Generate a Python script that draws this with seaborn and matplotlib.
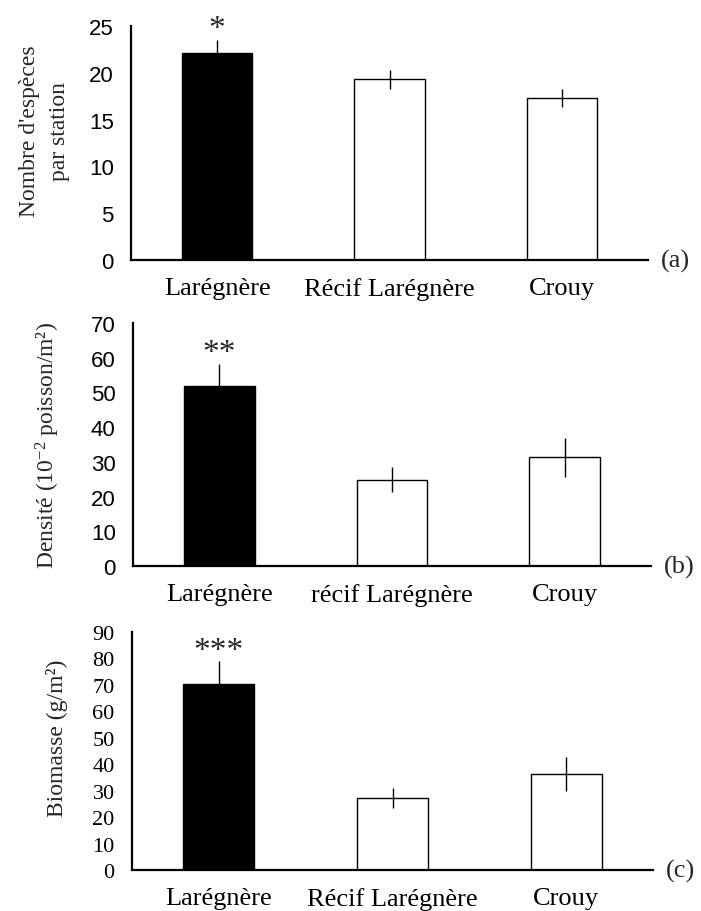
import matplotlib
matplotlib.use("Agg")
import matplotlib.pyplot as plt
import seaborn as sns
import pandas as pd
import numpy as np
from matplotlib.ticker import FixedLocator, MultipleLocator

# ---------------- data ----------------
stations_a = ["Larégnère", "Récif Larégnère", "Crouy"]
stations_b = ["Larégnère", "récif Larégnère", "Crouy"]
stations_c = ["Larégnère", "Récif Larégnère", "Crouy"]

especes_mean = [22.1, 19.3, 17.3]
especes_err = [1.4, 1.05, 1.0]

densite_mean = [51.8, 24.9, 31.3]
densite_err = [6.4, 3.7, 5.7]

biomasse_mean = [70.4, 27.2, 36.3]
biomasse_err = [8.5, 3.8, 6.5]

signif = ["*", "**", "***"]
ylabels = ["Nombre d'espèces\npar station",
           "Densité (10$^{\\mathrm{-2}}$ poisson/m²)",
           "Biomasse (g/m²)"]
panel_tags = ["(a)", "(b)", "(c)"]
ymax = [25, 70, 90]
ystep = [5, 10, 10]

bar_colors = ["black", "white", "white"]

# ---------------- style ----------------
sns.set_style("white")
plt.rcParams["font.family"] = ["Liberation Serif", "DejaVu Serif"]
plt.rcParams["mathtext.fontset"] = "custom"
plt.rcParams["mathtext.rm"] = "Liberation Serif"
plt.rcParams["mathtext.it"] = "Liberation Serif:italic"
plt.rcParams["mathtext.bf"] = "Liberation Serif:bold"

fig = plt.figure(figsize=(7.01, 9.12), dpi=100)

positions = [
    [131 / 701, 1 - 261 / 912, 517 / 701, 234 / 912],
    [133 / 701, 1 - 567 / 912, 518 / 701, 243 / 912],
    [132 / 701, 1 - 871 / 912, 521 / 701, 238 / 912],
]
label_coords = [(-0.118, 0.553), (-0.138, 0.5), (-0.122, 0.559)]
tick_fonts = ["Liberation Sans", "Liberation Sans", "Liberation Serif"]

datasets = [
    (stations_a, especes_mean, especes_err),
    (stations_b, densite_mean, densite_err),
    (stations_c, biomasse_mean, biomasse_err),
]

for i, (cats, means, errs) in enumerate(datasets):
    ax = fig.add_axes(positions[i])
    df = pd.DataFrame({"station": cats, "valeur": means})
    sns.barplot(data=df, x="station", y="valeur", hue="station",
                palette=bar_colors, legend=False, width=0.41,
                edgecolor="black", linewidth=1.0, errorbar=None,
                saturation=1, ax=ax)
    xs = np.arange(len(cats))
    ax.errorbar(xs, means, yerr=errs, fmt="none", ecolor="black",
                elinewidth=1.0, capsize=0, zorder=5)
    # significance stars
    ax.annotate(signif[i], xy=(xs[0], means[0] + errs[0]),
                xytext=(0, 2), textcoords="offset points",
                ha="center", va="baseline", fontsize=24,
                annotation_clip=False)

    ax.set_xlim(-0.5, len(cats) - 0.5)
    ax.set_ylim(0, ymax[i])
    ax.yaxis.set_major_locator(MultipleLocator(ystep[i]))
    ax.set_xlabel("")
    ax.set_ylabel(ylabels[i], fontsize=17, linespacing=1.55)
    ax.yaxis.set_label_coords(*label_coords[i])

    for s in ["top", "right"]:
        ax.spines[s].set_visible(False)
    for s in ["left", "bottom"]:
        ax.spines[s].set_linewidth(1.6)
        ax.spines[s].set_color("black")

    ax.tick_params(axis="y", which="major", direction="inout", length=9,
                   width=1.4, pad=8, labelsize=16, colors="black")
    for lab in ax.get_yticklabels():
        lab.set_fontfamily(tick_fonts[i])
    ax.xaxis.set_minor_locator(FixedLocator(np.arange(len(cats) + 1) - 0.5))
    ax.tick_params(axis="x", which="minor", direction="inout", length=9,
                   width=1.0, colors="black")
    ax.tick_params(axis="x", which="major", length=0, pad=12,
                   labelsize=19, colors="black")

    ax.text(1.025, 0, panel_tags[i], transform=ax.transAxes,
            ha="left", va="center", fontsize=19)

fig.savefig("out.png", dpi=100)
